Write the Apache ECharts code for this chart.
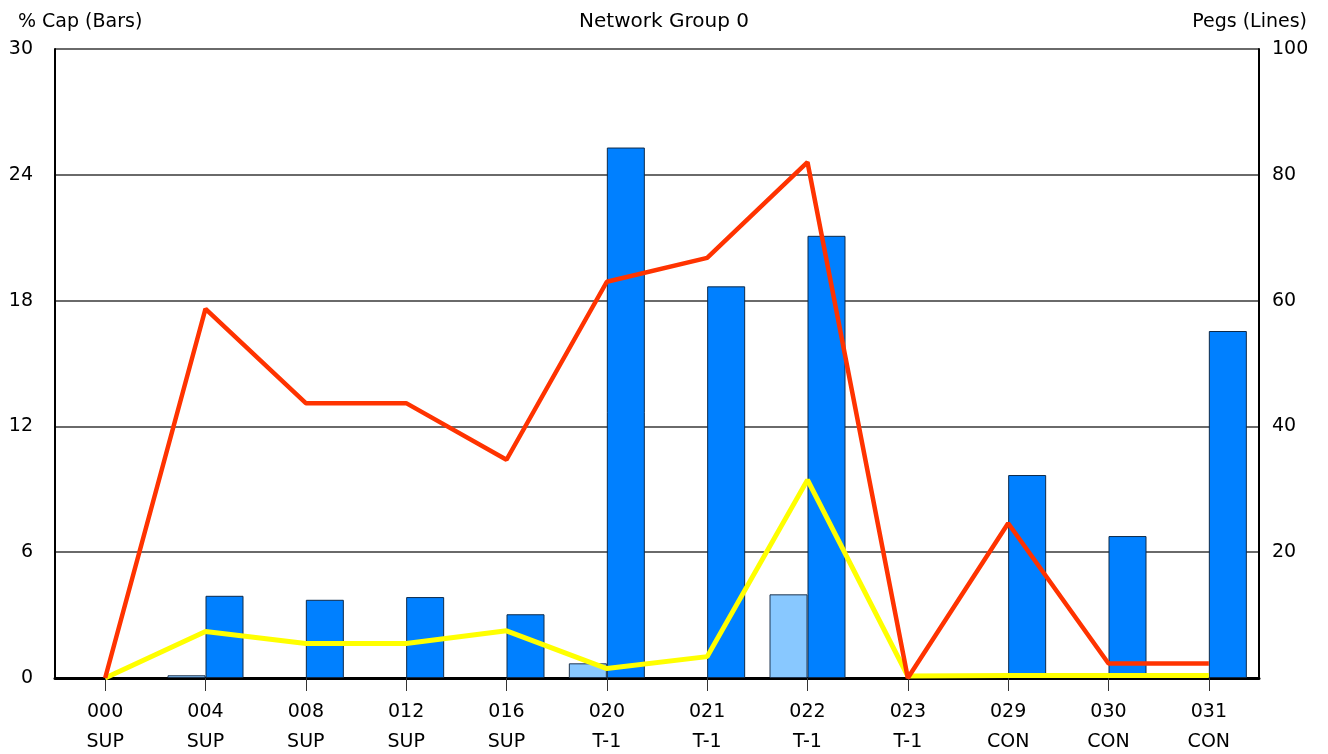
<!DOCTYPE html>
<html><head><meta charset="utf-8">
<script src="https://cdn.jsdelivr.net/npm/echarts@6/dist/echarts.min.js"></script>
<style>html,body{margin:0;padding:0;background:#fff}#c{width:1328px;height:754px}</style>
</head><body><div id="c"></div>
<script>
const categories = ["000\nSUP","004\nSUP","008\nSUP","012\nSUP","016\nSUP","020\nT-1","021\nT-1","022\nT-1","023\nT-1","029\nCON","030\nCON","031\nCON"];
const lightBars = [0, 0.13, 0, 0, 0, 0.7, 0, 3.99, 0, 0, 0, 0];
const darkBars = [0, 3.92, 3.73, 3.86, 3.04, 25.3, 18.68, 21.09, 0, 9.68, 6.77, 16.55];
const redLine = [0, 58.7, 43.7, 43.7, 34.7, 63.0, 66.8, 82.0, 0, 24.6, 2.3, 2.3];
const yellowLine = [0, 7.4, 5.5, 5.5, 7.5, 1.5, 3.4, 31.5, 0.3, 0.4, 0.4, 0.4];
const leftTicks = [0, 30, 6];
const rightTicks = [0, 100, 20];

const font = 'DejaVu Sans';
const hideZero = arr => arr.map(v => v === 0 ? '-' : v);
const chart = echarts.init(document.getElementById('c'), null, {renderer:'canvas'});
chart.setOption({
  animation: false,
  backgroundColor: '#fff',
  textStyle: {fontFamily: font},
  title: [
    {text: 'Network Group 0', left: 'center', top: 7, textStyle: {fontFamily: font, fontSize: 20, fontWeight: 'normal', color: '#000'}},
    {text: '% Cap (Bars)', left: 13, top: 8, textStyle: {fontFamily: font, fontSize: 19, fontWeight: 'normal', color: '#000'}},
    {text: 'Pegs (Lines)', right: 16, top: 8, textStyle: {fontFamily: font, fontSize: 19, fontWeight: 'normal', color: '#000'}}
  ],
  grid: {left: 55, right: 69, top: 49, bottom: 76, containLabel: false, outerBoundsMode: 'none'},
  xAxis: {
    type: 'category', data: categories, boundaryGap: true,
    axisLine: {lineStyle: {color: '#000', width: 3}},
    axisTick: {show: true, alignWithLabel: true, length: 13, lineStyle: {color: '#333', width: 1}},
    axisLabel: {fontFamily: font, fontSize: 19, color: '#000', lineHeight: 30, margin: 19, interval: 0},
    splitLine: {show: false}
  },
  yAxis: [
    {type: 'value', min: leftTicks[0], max: leftTicks[1], interval: leftTicks[2], position: 'left',
     axisLine: {show: true, lineStyle: {color: '#000', width: 2}},
     axisTick: {show: false},
     axisLabel: {fontFamily: font, fontSize: 19, color: '#000', margin: 22},
     splitLine: {show: true, lineStyle: {color: '#6a6a6a', width: 2}}},
    {type: 'value', min: rightTicks[0], max: rightTicks[1], interval: rightTicks[2], position: 'right',
     axisLine: {show: true, lineStyle: {color: '#000', width: 2}},
     axisTick: {show: false},
     axisLabel: {fontFamily: font, fontSize: 19, color: '#000', margin: 13, formatter: v => v === 0 ? '' : String(v)},
     splitLine: {show: false}}
  ],
  series: [
    {type: 'bar', name: 'light', data: hideZero(lightBars), yAxisIndex: 0, barWidth: 38, barGap: '0%',
     itemStyle: {color: '#88c8ff', borderColor: '#1f3550', borderWidth: 1}, z: 2},
    {type: 'bar', name: 'dark', data: hideZero(darkBars), yAxisIndex: 0, barWidth: 38, barGap: '0%',
     itemStyle: {color: '#0080ff', borderColor: '#0d2a4a', borderWidth: 1}, z: 2},
    {type: 'line', name: 'yellow', data: yellowLine, yAxisIndex: 1, showSymbol: false, symbol: 'none',
     lineStyle: {color: '#ffff00', width: 5}, z: 4},
    {type: 'line', name: 'red', data: redLine, yAxisIndex: 1, showSymbol: false, symbol: 'none',
     lineStyle: {color: '#ff3300', width: 4.5}, z: 5}
  ]
});
</script></body></html>
